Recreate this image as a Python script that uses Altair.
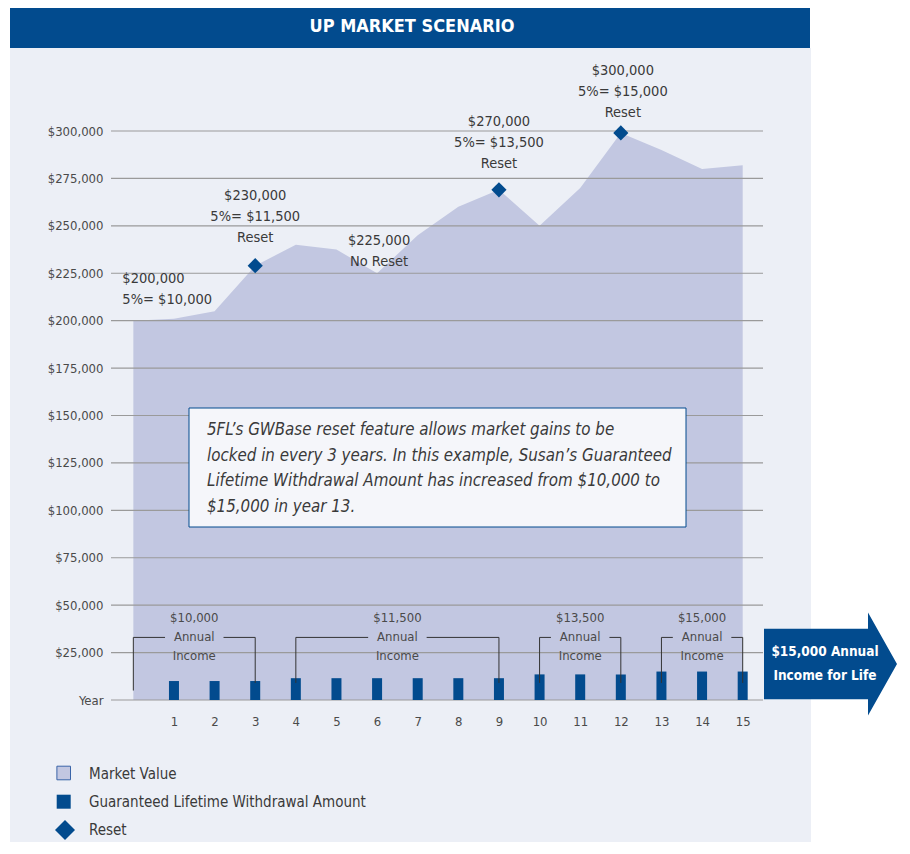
import altair as alt
import pandas as pd

# ---------------- data ----------------
years = [0, 1, 2, 3, 4, 5, 6, 7, 8, 9, 10, 11, 12, 13, 14, 15]
market_value = [200000, 201000, 205000, 229000, 240000, 237500, 225000, 245000,
                260000, 269000, 250000, 270000, 299000, 290000, 280000, 282000]

glwa_years = [1, 2, 3, 4, 5, 6, 7, 8, 9, 10, 11, 12, 13, 14, 15]
glwa_values = [10000, 10000, 10000, 11500, 11500, 11500, 11500, 11500, 11500,
               13500, 13500, 13500, 15000, 15000, 15000]

reset_years = [3, 9, 12]
reset_values = [229000, 269000, 299000]

ann_years = [0, 3, 6, 9, 12]
ann_values = [200000, 229000, 225000, 269000, 299000]
ann_texts = ["$200,000\n5%= $10,000",
             "$230,000\n5%= $11,500\nReset",
             "$225,000\nNo Reset",
             "$270,000\n5%= $13,500\nReset",
             "$300,000\n5%= $15,000\nReset"]

bracket_start = [0, 4, 10, 13]
bracket_end = [3, 9, 12, 15]
bracket_amount = ["$10,000", "$11,500", "$13,500", "$15,000"]
bracket_start_bottom = [5000, 9000, 9000, 9000]
bracket_end_bottom = [9000, 9000, 9000, 9000]
bracket_level = 33000

grid_values = [0, 25000, 50000, 75000, 100000, 125000, 150000, 175000, 200000,
               225000, 250000, 275000, 300000]
x_ticks = [1, 2, 3, 4, 5, 6, 7, 8, 9, 10, 11, 12, 13, 14, 15]

title_text = "UP MARKET SCENARIO"
box_text = ["5FL\u2019s GWBase reset feature allows market gains to be",
            "locked in every 3 years. In this example, Susan\u2019s Guaranteed",
            "Lifetime Withdrawal Amount has increased from $10,000 to",
            "$15,000 in year 13."]
arrow_text = ["$15,000 Annual", "Income for Life"]
legend_labels = ["Market Value", "Guaranteed Lifetime Withdrawal Amount", "Reset"]

# ---------------- style ----------------
FONT = "Liberation Sans Narrow, Arial Narrow, DejaVu Sans Condensed, Roboto Condensed, sans-serif"
BLUE = "#024B8E"
AREA = "#C2C7E1"
PANEL = "#ECEFF6"
GRID = "#9A9A9A"
TXT = "#3A3A3A"
W, H = 652, 569

xscale = alt.Scale(domain=[-0.55, 15.5], nice=False, zero=False, padding=0)
yscale = alt.Scale(domain=[0, 300000], nice=False, padding=0)
xaxis = alt.Axis(values=x_ticks, title=None, grid=False, domain=False, ticks=False,
                 labelFontSize=13, labelColor="#4A4A4A", labelPadding=15, zindex=1)
yaxis = alt.Axis(values=grid_values, title=None, grid=False, domain=False, ticks=False,
                 labelFontSize=13, labelColor="#4A4A4A", labelPadding=8, zindex=1,
                 labelExpr="datum.value == 0 ? 'Year' : '$' + format(datum.value, ',')")

one = pd.DataFrame({"a": [0]})


def X(*args, **kw):
    return alt.X(*args, scale=xscale, axis=xaxis, **kw)


def Y(*args, **kw):
    return alt.Y(*args, scale=yscale, axis=yaxis, **kw)


mv_df = pd.DataFrame({"year": years, "value": market_value})
glwa_df = pd.DataFrame({"year": glwa_years, "value": glwa_values})
reset_df = pd.DataFrame({"year": reset_years, "value": reset_values})
ann_df = pd.DataFrame({"year": ann_years, "value": ann_values, "text": ann_texts})
br_df = pd.DataFrame({"s": bracket_start, "e": bracket_end, "amt": bracket_amount,
                      "sb": bracket_start_bottom, "eb": bracket_end_bottom,
                      "lvl": [bracket_level] * len(bracket_start)})
grid_df = pd.DataFrame({"v": grid_values})

layers = []

# background panel + title bar
layers.append(alt.Chart(one).mark_rect(color=PANEL).encode(
    x=alt.value(-101), x2=alt.value(700), y=alt.value(-83), y2=alt.value(740)))
layers.append(alt.Chart(one).mark_rect(color=BLUE).encode(
    x=alt.value(-101), x2=alt.value(699), y=alt.value(-125), y2=alt.value(-83)))
layers.append(alt.Chart(one).mark_text(font=FONT, fontSize=18, fontWeight="bold",
                                       color="white", align="center", baseline="middle").encode(
    x=alt.value(301), y=alt.value(-104), text=alt.value(title_text)))

# market value area
layers.append(alt.Chart(mv_df).mark_area(color=AREA, opacity=1, interpolate="linear").encode(
    x=X("year:Q"), y=Y("value:Q")))

# gridlines
layers.append(alt.Chart(grid_df).mark_rule(color=GRID, strokeWidth=1.2).encode(
    y=Y("v:Q"), x=alt.value(0), x2=alt.value(W)))

# GLWA bars
layers.append(alt.Chart(glwa_df).mark_bar(color=BLUE, size=10, orient="vertical").encode(
    x=X("year:Q"), y=Y("value:Q")))

# brackets
bc = alt.Chart(br_df).transform_calculate(
    mid="(datum.s + datum.e) / 2",
    gl="(datum.s + datum.e) / 2 - 0.72",
    gr="(datum.s + datum.e) / 2 + 0.72",
    label="[datum.amt, 'Annual', 'Income']")
rule_kw = dict(color="#333333", strokeWidth=1)
layers.append(bc.mark_rule(**rule_kw).encode(
    x=X("s:Q"), y=Y("lvl:Q"), y2=alt.Y2("sb:Q")))
layers.append(bc.mark_rule(**rule_kw).encode(
    x=X("e:Q"), y=Y("lvl:Q"), y2=alt.Y2("eb:Q")))
layers.append(bc.mark_rule(**rule_kw).encode(
    x=X("s:Q"), x2=alt.X2("gl:Q"), y=Y("lvl:Q")))
layers.append(bc.mark_rule(**rule_kw).encode(
    x=X("gr:Q"), x2=alt.X2("e:Q"), y=Y("lvl:Q")))
layers.append(bc.mark_text(font=FONT, fontSize=13, color="#4A4A4A", align="center",
                           baseline="middle", lineHeight=19, dy=-19).encode(
    x=X("mid:Q"), y=Y("lvl:Q"), text="label:N"))

# reset diamonds
layers.append(alt.Chart(reset_df).mark_point(shape="diamond", filled=True, size=230,
                                             color=BLUE, opacity=1).encode(
    x=X("year:Q"), y=Y("value:Q")))

# value annotations (offsets place the first line of each label)
ann_style = {0: ("left", -11, -42), 3: ("center", 0, -70), 6: ("center", 2, -32.5),
             9: ("center", 0, -68), 12: ("center", 2, -62)}
for yr, (al, dx, dy) in ann_style.items():
    layers.append(alt.Chart(ann_df).transform_filter(f"datum.year == {yr}")
                  .transform_calculate(lines="split(datum.text, '\\n')")
                  .mark_text(font=FONT, fontSize=14.5, color=TXT, align=al,
                             baseline="middle", lineHeight=21, dx=dx, dy=dy).encode(
        x=X("year:Q"), y=Y("value:Q"), text="lines:N"))

# explanation box
layers.append(alt.Chart(one).mark_rect(fill="#F5F6FA", stroke=BLUE, strokeWidth=1).encode(
    x=alt.value(78), x2=alt.value(575), y=alt.value(277), y2=alt.value(396)))
layers.append(alt.Chart(one).mark_text(
    font=FONT, fontSize=16.8, fontStyle="italic", color=TXT, align="left",
    baseline="middle", lineHeight=25.7).encode(
    x=alt.value(96), y=alt.value(299), text=alt.value(box_text)))

# arrow
arrow_path = ("M-1,-0.531L0.564,-0.531L0.564,-0.774L1,0L0.564,0.774"
              "L0.564,0.531L-1,0.531Z")
layers.append(alt.Chart(one).mark_point(shape=arrow_path, filled=True, size=133 * 133,
                                        color=BLUE, opacity=1, strokeWidth=0).encode(
    x=alt.value(719.5), y=alt.value(533)))
layers.append(alt.Chart(one).mark_text(font=FONT, fontSize=13.5, fontWeight="bold",
                                       color="white", align="center", baseline="middle",
                                       lineHeight=24).encode(
    x=alt.value(714), y=alt.value(521), text=alt.value(arrow_text)))

# legend
layers.append(alt.Chart(one).mark_point(shape="square", filled=True, size=185, fill=AREA,
                                        stroke="#3A64A8", strokeWidth=1, opacity=1).encode(
    x=alt.value(-47.3), y=alt.value(642)))
layers.append(alt.Chart(one).mark_point(shape="square", filled=True, size=196,
                                        color=BLUE, opacity=1).encode(
    x=alt.value(-47.3), y=alt.value(670.7)))
layers.append(alt.Chart(one).mark_point(shape="diamond", filled=True, size=400,
                                        color=BLUE, opacity=1).encode(
    x=alt.value(-46), y=alt.value(699)))
for i, lab in enumerate(legend_labels):
    layers.append(alt.Chart(one).mark_text(font=FONT, fontSize=15, color=TXT,
                                           align="left", baseline="middle").encode(
        x=alt.value(-22), y=alt.value(643 + i * 28.2), text=alt.value(lab)))

chart = alt.layer(*layers).properties(
    width=W, height=H,
    autosize=alt.AutoSizeParams(type="none"),
    padding={"left": 103, "top": 123, "right": 136, "bottom": 142},
    background="white",
).configure(font=FONT).configure_view(stroke=None)

chart.save("out.html", embed_options={"renderer": "svg", "actions": False})
